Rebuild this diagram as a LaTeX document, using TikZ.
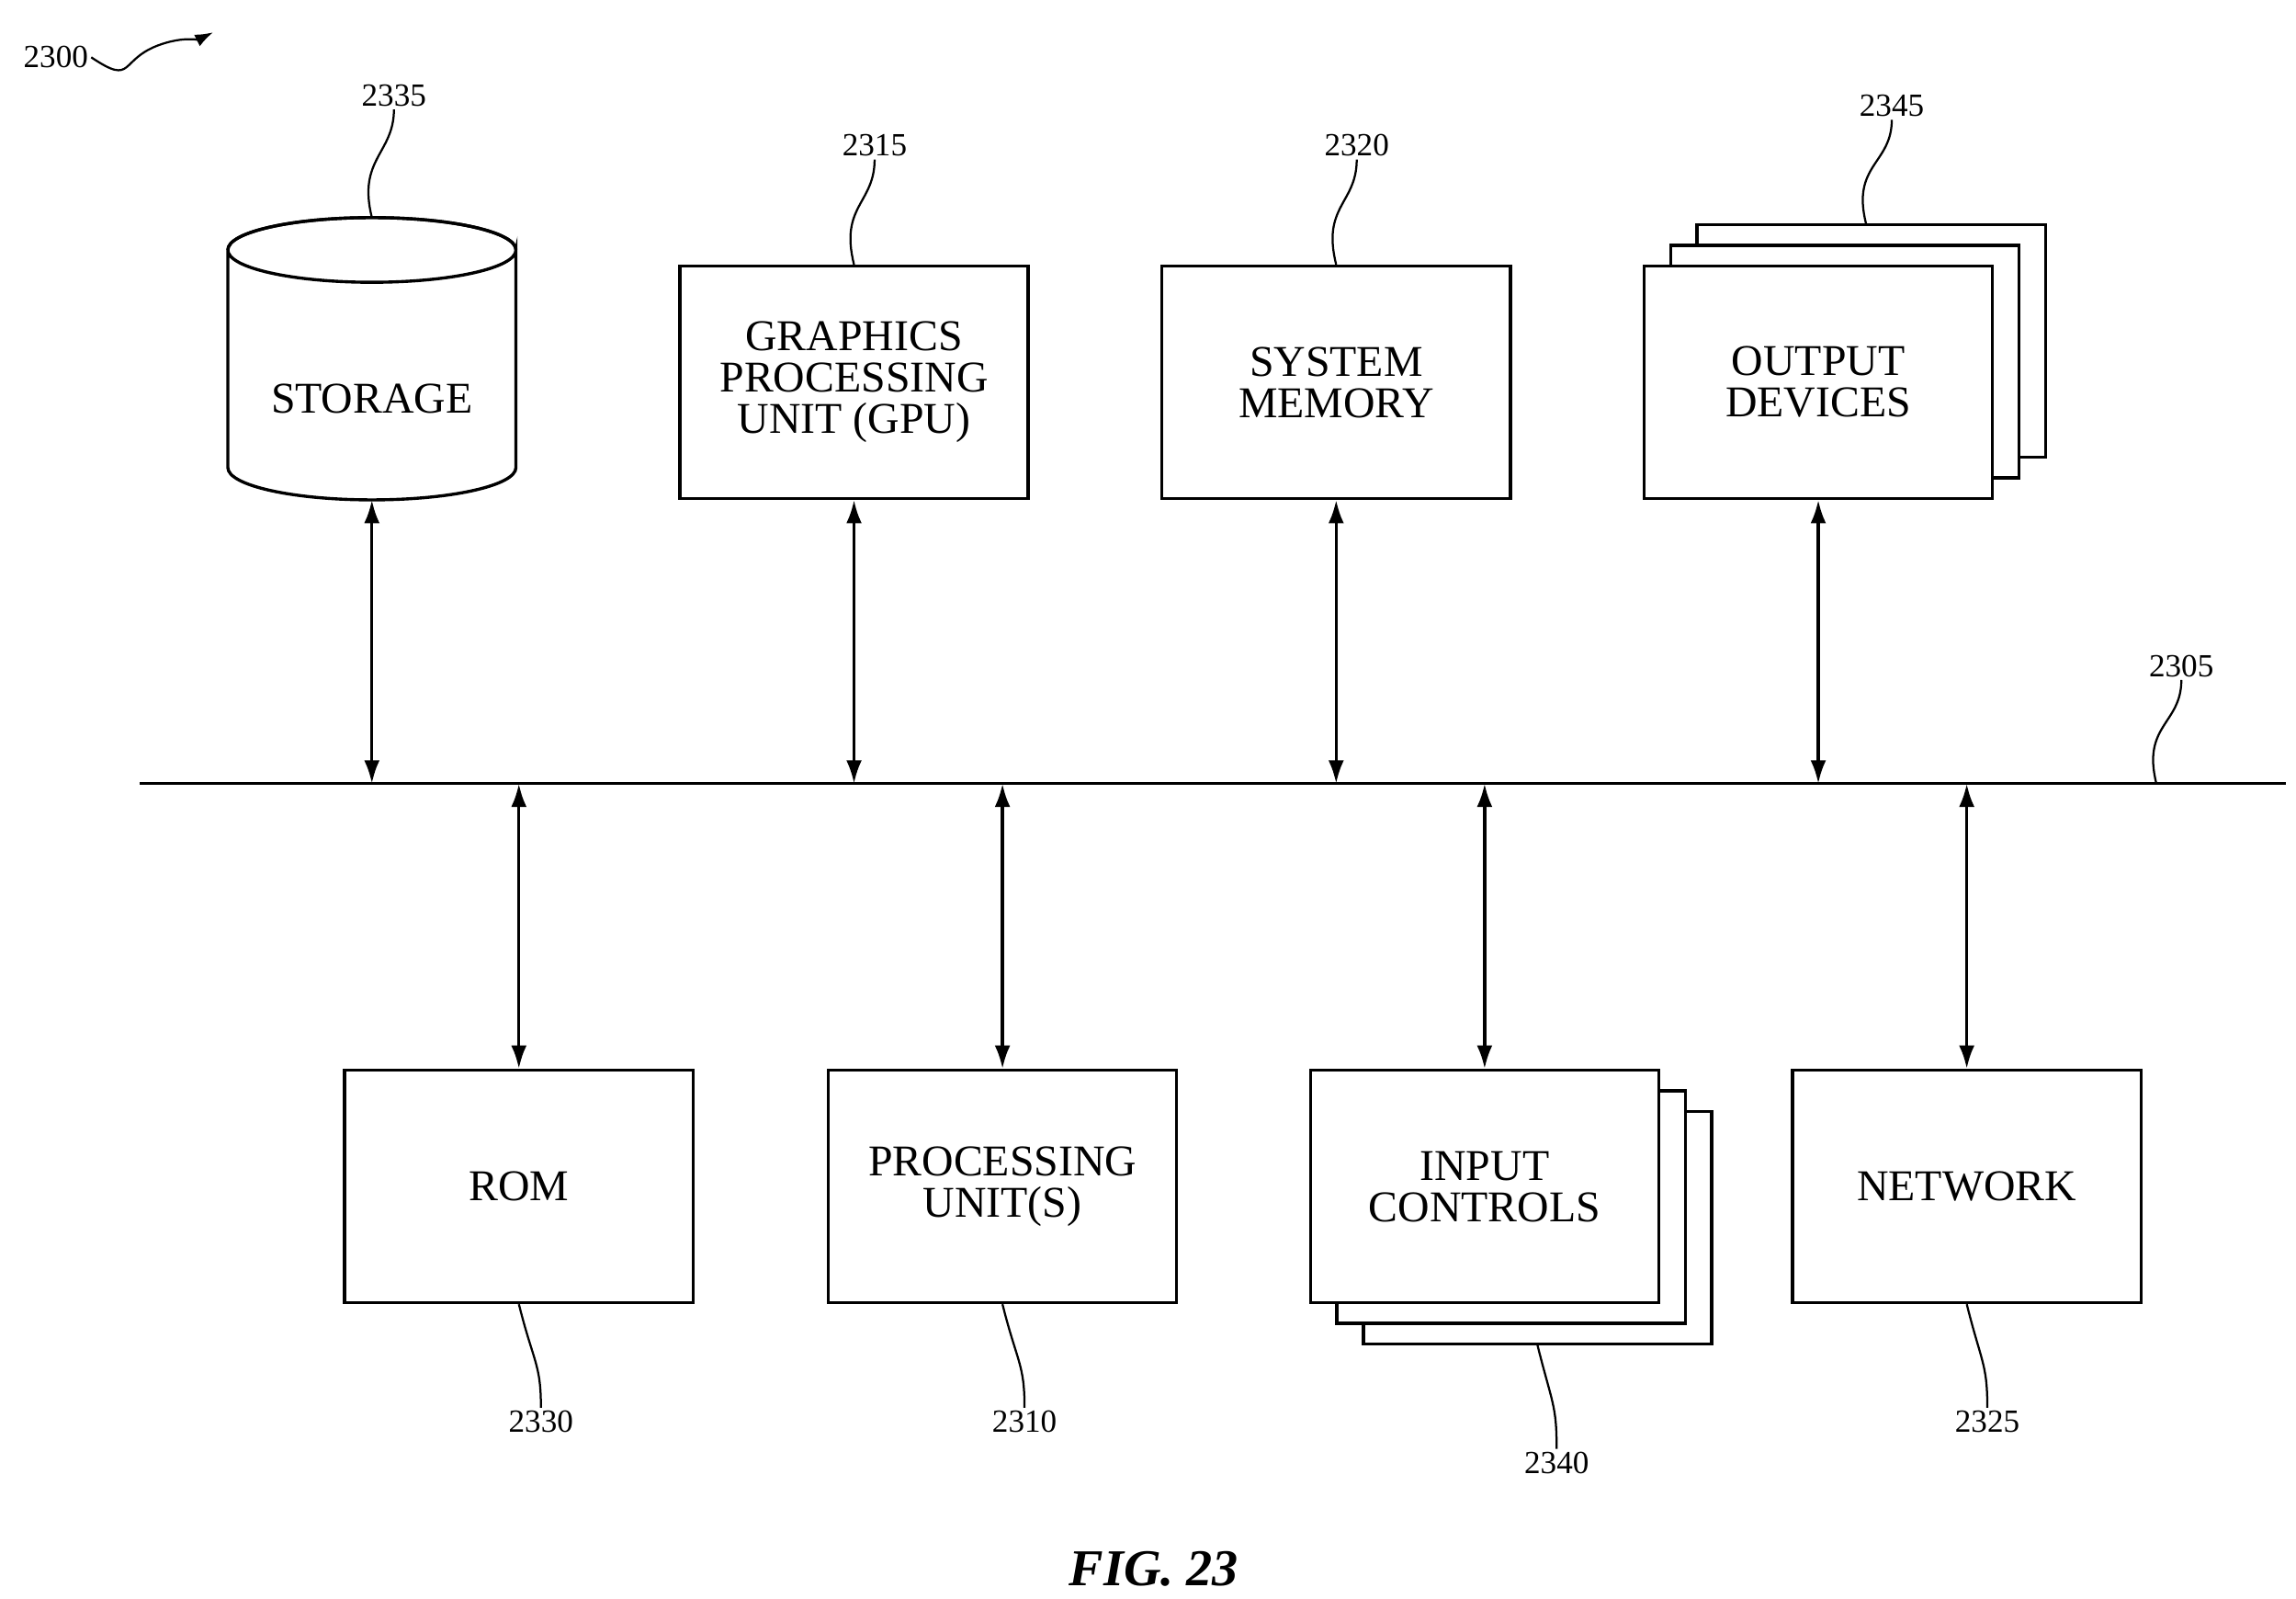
\documentclass[tikz,border=0pt]{standalone}
\usepackage{fontspec}
\setmainfont{Liberation Serif}
\usetikzlibrary{positioning,arrows.meta}
\tikzset{
  % block with text
  unit/.style = {
    draw = black,
    line width = 1.2pt,
    fill = white,
    minimum width = 4.74cm,
    minimum height = 3.16cm,
    align = center,
    font = \fontsize{17}{16}\selectfont
  },
  % reference numeral
  numeral/.style = {
    font = \fontsize{12.5}{14}\selectfont,
    inner sep = 1pt
  },
  % bus connector
  link/.style = {
    line width = 1.2pt,
    {Latex[length=9pt,width=6pt]}-{Latex[length=9pt,width=6pt]}
  },
  % wavy leader line
  leader/.style = {
    line width = 0.8pt
  }
}
\begin{document}
\begin{tikzpicture}[x=0.2mm,y=-0.2mm]
    \useasboundingbox (0,0) rectangle (1562,1087);

    % bus
    \coordinate (bus-w) at (95,533);
    \coordinate (bus-e) at (1555,533);
    \draw[line width=1.2pt] (bus-w) -- (bus-e);

    % storage
    \coordinate (storage-top) at (253,148);
    \coordinate (storage-bot) at (253,340);
    \draw[line width=1.2pt, fill=white] (155,170) -- (155,318)
      arc[start angle=180, end angle=360, x radius=98, y radius=-22]
      -- (351,170) arc[start angle=0, end angle=-360, x radius=98, y radius=-22];
    \draw[line width=1.2pt] (155,170) arc[start angle=180, end angle=360, x radius=98, y radius=22];
    \node[font=\fontsize{17}{16}\selectfont] (storage) at (253,271) {STORAGE};

    % top row
    \node[unit] (gpu) at (581,260) {GRAPHICS\\PROCESSING\\UNIT (GPU)};
    \node[unit] (memory) at (909,260) {SYSTEM\\MEMORY};
    \node[unit] (output-c) at (1273,232) {};
    \node[unit] (output-b) at (1255,246) {};
    \node[unit] (output) at (1237,260) {OUTPUT\\DEVICES};

    % bottom row
    \node[unit] (rom) at (353,807) {ROM};
    \node[unit] (cpu) at (682,807) {PROCESSING\\UNIT(S)};
    \node[unit] (input-c) at (1046,835) {};
    \node[unit] (input-b) at (1028,821) {};
    \node[unit] (input) at (1010,807) {INPUT\\CONTROLS};
    \node[unit] (network) at (1338,807) {NETWORK};

    % links to the bus
    \draw[link] (storage-bot) -- (storage-bot |- bus-w);
    \draw[link] (gpu.south) -- (gpu.south |- bus-w);
    \draw[link] (memory.south) -- (memory.south |- bus-w);
    \draw[link] (output.south) -- (output.south |- bus-w);
    \draw[link] (rom.north |- bus-w) -- (rom.north);
    \draw[link] (cpu.north |- bus-w) -- (cpu.north);
    \draw[link] (input.north |- bus-w) -- (input.north);
    \draw[link] (network.north |- bus-w) -- (network.north);

    % numerals
    \node[numeral] (n2300) at (38,39) {2300};
    \node[numeral] (n2335) at (268,65) {2335};
    \node[numeral] (n2315) at (595,99) {2315};
    \node[numeral] (n2320) at (923,99) {2320};
    \node[numeral] (n2345) at (1287,72) {2345};
    \node[numeral] (n2305) at (1484,453) {2305};
    \node[numeral] (n2330) at (368,967) {2330};
    \node[numeral] (n2310) at (697,967) {2310};
    \node[numeral] (n2340) at (1059,995) {2340};
    \node[numeral] (n2325) at (1352,967) {2325};
    \coordinate (bus-tap) at (1467,533);
    \coordinate (fig-tip) at (145,22);

    \draw[leader] (storage-top) .. controls +(-10,-40) and +(0,30) .. (n2335.south);
    \draw[leader] (gpu.north) .. controls +(-10,-40) and +(0,30) .. (n2315.south);
    \draw[leader] (memory.north) .. controls +(-10,-40) and +(0,30) .. (n2320.south);
    \draw[leader] (output-c.north west) ++(116,0) .. controls +(-10,-40) and +(0,30) .. (n2345.south);
    \draw[leader] (bus-tap) .. controls +(-10,-40) and +(0,30) .. (n2305.south);
    \draw[leader] (rom.south) .. controls +(10,40) and +(0,-30) .. (n2330.north);
    \draw[leader] (cpu.south) .. controls +(10,40) and +(0,-30) .. (n2310.north);
    \draw[leader] (input-c.south) .. controls +(10,40) and +(0,-30) .. (n2340.north);
    \draw[leader] (network.south) .. controls +(10,40) and +(0,-30) .. (n2325.north);
    \draw[leader, -{Latex[length=7pt,width=5pt]}] (n2300.east) .. controls +(30,20) and +(-30,10) .. (110,30) .. controls +(15,-5) and +(-10,5) .. (fig-tip);

    \node[font=\fontsize{20}{22}\selectfont\bfseries\itshape] (fig) at (785,1067) {FIG. 23};
\end{tikzpicture}
\end{document}
